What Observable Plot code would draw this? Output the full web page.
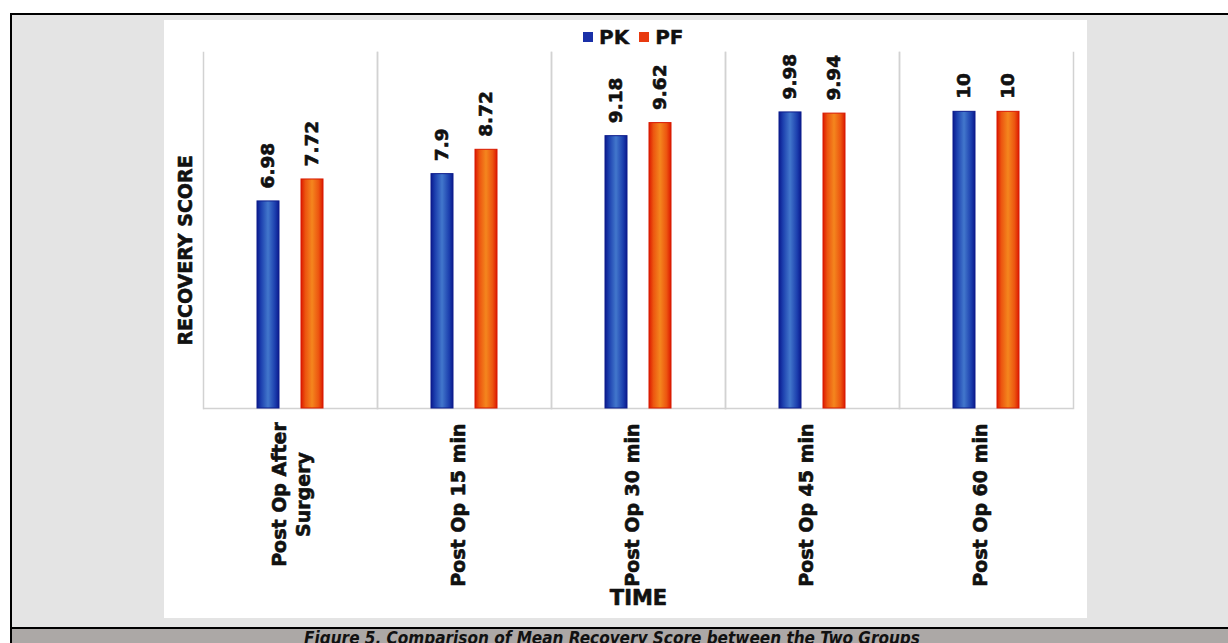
<!DOCTYPE html>
<html><head><meta charset="utf-8">
<script src="https://cdn.jsdelivr.net/npm/d3@7"></script>
<script src="https://cdn.jsdelivr.net/npm/@observablehq/plot@0.6"></script>
<style>
html,body{margin:0;padding:0;background:#fff;width:1228px;height:643px;overflow:hidden;font-family:"DejaVu Sans",sans-serif;}
#outer{position:absolute;left:10px;top:13px;width:1230px;height:640px;border-left:2px solid #000;border-top:2px solid #000;background:#e4e4e4;}
#panel{position:absolute;left:152px;top:5px;width:923px;height:598px;background:#fff;}
#legend{position:absolute;left:419px;top:7px;height:20px;display:flex;align-items:center;font-family:"DejaVu Sans",sans-serif;font-weight:bold;font-size:20px;line-height:20px;color:#111;-webkit-text-stroke:0.4px #111;}
#legend .sw{width:10px;height:10px;display:inline-block;}
#chart{position:absolute;left:0;top:28px;}
#caption{position:absolute;left:0;top:612px;width:1230px;height:40px;border-top:2px solid #000;background:#aca8a6;}
#caption div{width:1200px;text-align:center;font-family:"Liberation Sans Narrow","DejaVu Sans Condensed",sans-serif;font-weight:bold;font-style:italic;font-size:17px;line-height:19px;color:#111;}
</style></head>
<body>
<div id="outer">
  <div id="panel">
    <div id="legend"></div>
    <div id="chart"></div>
  </div>
  <div id="caption"><div id="captext"></div></div>
</div>
<script>
const categories = ["Post Op After Surgery", "Post Op 15 min", "Post Op 30 min", "Post Op 45 min", "Post Op 60 min"];
const tickLabels = ["Post Op After\nSurgery", "Post Op 15 min", "Post Op 30 min", "Post Op 45 min", "Post Op 60 min"];
const groups = ["PK", "PF"];
const pkValues = [6.98, 7.9, 9.18, 9.98, 10];
const pfValues = [7.72, 8.72, 9.62, 9.94, 10];
const yLabel = "RECOVERY SCORE";
const xLabel = "TIME";
const captionText = "Figure 5. Comparison of Mean Recovery Score between the Two Groups";
const legendColors = ["#1a30a8", "#e83a10"];

const rows = categories.flatMap((c, i) => [
  {time: c, group: groups[0], value: pkValues[i]},
  {time: c, group: groups[1], value: pfValues[i]}
]);
const ticks = categories.map((c, i) => ({time: c, label: tickLabels[i], multi: tickLabels[i].includes("\n")}));

// legend
const legend = document.getElementById("legend");
groups.forEach((g, i) => {
  const sw = document.createElement("span");
  sw.className = "sw";
  sw.style.background = legendColors[i];
  sw.style.marginLeft = i === 0 ? "0px" : "10px";
  sw.style.marginRight = "6px";
  legend.appendChild(sw);
  const t = document.createElement("span");
  t.textContent = g;
  legend.appendChild(t);
});
document.getElementById("captext").textContent = captionText;

const textStyle = {fontWeight: "bold", fill: "#111", stroke: "#111", strokeWidth: 0.6};
const plot = Plot.plot({
  width: 923,
  height: 570,
  marginLeft: 39,
  marginRight: 14,
  marginTop: 4,
  marginBottom: 210,
  style: {fontFamily: "DejaVu Sans", background: "transparent", overflow: "visible"},
  fx: {domain: categories, padding: 0, axis: null},
  x: {domain: groups, paddingInner: 0.489, paddingOuter: 1.178, axis: null},
  y: {domain: [0, 12], axis: null},
  marks: [
    Plot.frame({anchor: "left", stroke: "#d2d2d2", strokeWidth: 1.5}),
    Plot.frame({anchor: "right", stroke: "#d2d2d2", strokeWidth: 1.5}),
    Plot.ruleY([0], {stroke: "#d2d2d2", strokeWidth: 1.5}),
    Plot.barY(rows.filter(d => d.group === groups[0]), {fx: "time", x: "group", y: "value", fill: "url(#gPK)", stroke: "#0c1c8c", strokeWidth: 1}),
    Plot.barY(rows.filter(d => d.group === groups[1]), {fx: "time", x: "group", y: "value", fill: "url(#gPF)", stroke: "#d81800", strokeWidth: 1}),
    Plot.text(rows, {fx: "time", x: "group", y: "value", text: d => String(d.value), rotate: -90, textAnchor: "start", dy: -13, fontSize: 18.5, ...textStyle}),
    Plot.text(ticks.filter(d => !d.multi), {fx: "time", text: "label", frameAnchor: "bottom", rotate: -90, textAnchor: "end", dy: 15, fontSize: 19, ...textStyle}),
    Plot.text(ticks.filter(d => d.multi), {fx: "time", text: "label", frameAnchor: "bottom", rotate: -90, textAnchor: "middle", lineAnchor: "middle", lineHeight: 1.25, dy: 86, fontSize: 19, ...textStyle}),
    Plot.text([yLabel], {fx: () => categories[0], text: d => d, frameAnchor: "left", rotate: -90, textAnchor: "middle", dx: -18, dy: 20, fontSize: 19, ...textStyle}),
    Plot.text([xLabel], {fx: () => categories[2], text: d => d, frameAnchor: "bottom", dy: 196, fontSize: 21, ...textStyle})
  ]
});

// gradients for the bars
const ns = "http://www.w3.org/2000/svg";
const defs = document.createElementNS(ns, "defs");
function grad(id, stops) {
  const lg = document.createElementNS(ns, "linearGradient");
  lg.setAttribute("id", id);
  lg.setAttribute("x1", "0"); lg.setAttribute("x2", "1");
  lg.setAttribute("y1", "0"); lg.setAttribute("y2", "0");
  stops.forEach(([o, c]) => {
    const s = document.createElementNS(ns, "stop");
    s.setAttribute("offset", o);
    s.setAttribute("stop-color", c);
    lg.appendChild(s);
  });
  defs.appendChild(lg);
}
grad("gPK", [["0", "#0a1a8e"], ["0.18", "#1c3fae"], ["0.5", "#4277cc"], ["0.82", "#1c3fae"], ["1", "#0a1a8e"]]);
grad("gPF", [["0", "#dc1a00"], ["0.2", "#ec5510"], ["0.5", "#f4861e"], ["0.8", "#ec5510"], ["1", "#dc1a00"]]);
plot.insertBefore(defs, plot.firstChild);
document.getElementById("chart").appendChild(plot);
</script>
</body></html>
